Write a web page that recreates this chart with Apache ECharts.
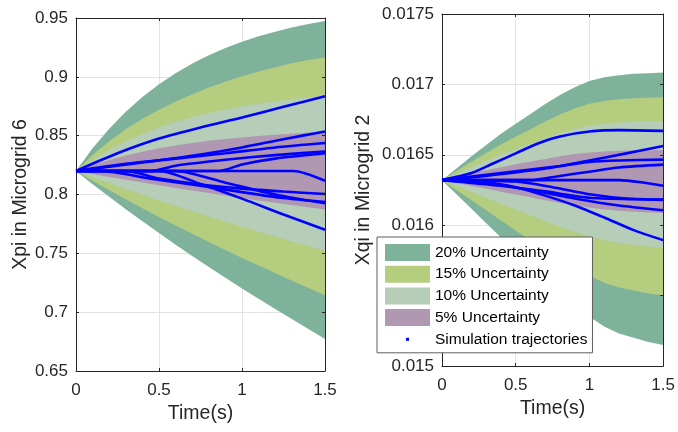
<!DOCTYPE html>
<html>
<head>
<meta charset="utf-8">
<script src="https://cdn.jsdelivr.net/npm/echarts@6/dist/echarts.min.js"></script>
<style>
html,body{margin:0;padding:0;background:#fff;}
#chart{width:678px;height:432px;}
</style>
</head>
<body>
<div id="chart"></div>
<script>
// ---- shared time grid (s) ----
const time = [0, 0.1, 0.2, 0.3, 0.4, 0.5, 0.6, 0.7, 0.8, 0.9, 1.0, 1.1, 1.2, 1.3, 1.4, 1.5];

// ---- left panel: Xpi in Microgrid 6, uncertainty band edges ----
const leftUpper20 = [0.82, 0.8392, 0.8559, 0.8703, 0.8829, 0.8937, 0.9031, 0.9113, 0.9183, 0.9245, 0.9298, 0.9344, 0.9384, 0.9419, 0.9449, 0.9475];
const leftLower20 = [0.82, 0.8088, 0.798, 0.7875, 0.7772, 0.7672, 0.7574, 0.7478, 0.7384, 0.7292, 0.7202, 0.7114, 0.7027, 0.6941, 0.6856, 0.6772];
const leftUpper15 = [0.82, 0.8335, 0.8452, 0.8554, 0.8643, 0.8721, 0.8791, 0.8853, 0.8909, 0.8959, 0.9004, 0.9045, 0.9082, 0.9115, 0.9144, 0.9165];
const leftLower15 = [0.82, 0.8117, 0.8037, 0.7959, 0.7883, 0.7809, 0.7737, 0.7666, 0.7596, 0.7528, 0.7461, 0.7396, 0.7332, 0.7268, 0.7205, 0.7143];
const leftUpper10 = [0.82, 0.8296, 0.838, 0.8452, 0.8515, 0.8569, 0.8616, 0.8657, 0.8692, 0.8723, 0.8749, 0.8772, 0.8792, 0.881, 0.8825, 0.884];
const leftLower10 = [0.82, 0.8147, 0.8095, 0.8046, 0.7997, 0.7949, 0.7903, 0.7857, 0.7812, 0.7769, 0.7726, 0.7684, 0.7643, 0.7602, 0.7562, 0.7522];
const leftUpper5  = [0.82, 0.825, 0.8293, 0.8331, 0.8364, 0.8392, 0.8416, 0.8437, 0.8456, 0.8472, 0.8485, 0.8497, 0.8508, 0.8517, 0.8525, 0.8532];
const leftLower5  = [0.82, 0.8174, 0.8149, 0.8125, 0.8102, 0.8079, 0.8056, 0.8034, 0.8012, 0.7991, 0.797, 0.795, 0.793, 0.791, 0.7891, 0.7872];

// ---- left panel simulation trajectories [t, value] ----
const leftTraj1  = [[0,0.82],[0.25,0.835],[0.5,0.8475],[0.75,0.857],[1,0.8655],[1.25,0.8745],[1.5,0.8835]];
const leftTraj2  = [[0,0.82],[0.5,0.829],[0.75,0.834],[1,0.840],[1.25,0.847],[1.5,0.8536]];
const leftTraj3  = [[0,0.82],[0.3,0.826],[0.6,0.8305],[0.9,0.835],[1.2,0.84],[1.5,0.8438]];
const leftTraj4  = [[0,0.82],[0.45,0.82],[0.6,0.8245],[0.9,0.8295],[1.2,0.8335],[1.5,0.8366]];
const leftTraj5  = [[0,0.82],[0.86,0.82],[1.0,0.8255],[1.2,0.8305],[1.5,0.835]];
const leftTraj6  = [[0,0.82],[1.31,0.82],[1.5,0.8117]];
const leftTraj7  = [[0,0.82],[0.3,0.82],[0.5,0.8135],[0.75,0.8085],[1.0,0.805],[1.25,0.8025],[1.5,0.8004]];
const leftTraj8  = [[0,0.82],[0.15,0.82],[0.45,0.8135],[0.75,0.8075],[1.0,0.802],[1.25,0.797],[1.5,0.7936]];
const leftTraj9  = [[0,0.82],[0.6,0.82],[0.9,0.81],[1.2,0.8],[1.5,0.7925]];
const leftTraj10 = [[0,0.82],[0.5,0.82],[0.75,0.809],[1.0,0.7965],[1.25,0.783],[1.5,0.77]];

// ---- right panel: Xqi in Microgrid 2, uncertainty band edges ----
const rightUpper20 = [0.01632, 0.016405, 0.01649, 0.01657, 0.01665, 0.01672, 0.01679, 0.01686, 0.016925, 0.01698, 0.017025, 0.01705, 0.017065, 0.017075, 0.01708, 0.017085];
const rightLower20 = [0.01632, 0.016218, 0.016116, 0.016014, 0.015912, 0.01581, 0.015708, 0.015608, 0.015512, 0.015425, 0.01535, 0.01528, 0.01523, 0.0152, 0.01517, 0.01515];
const rightUpper15 = [0.01632, 0.016386, 0.016451, 0.016513, 0.016574, 0.016628, 0.016682, 0.016736, 0.016786, 0.016828, 0.016863, 0.016882, 0.016894, 0.016901, 0.016905, 0.016909];
const rightLower15 = [0.01632, 0.016249, 0.016177, 0.016106, 0.016034, 0.015963, 0.015892, 0.015822, 0.015754, 0.015693, 0.015641, 0.015592, 0.015557, 0.015536, 0.015515, 0.015501];
const rightUpper10 = [0.01632, 0.016367, 0.016414, 0.016458, 0.016502, 0.01654, 0.016579, 0.016617, 0.016653, 0.016683, 0.016708, 0.016721, 0.01673, 0.016735, 0.016738, 0.01674];
const rightLower10 = [0.01632, 0.016278, 0.016236, 0.016195, 0.016153, 0.016111, 0.016069, 0.016028, 0.015989, 0.015953, 0.015922, 0.015894, 0.015873, 0.015861, 0.015848, 0.01584];
const rightUpper5  = [0.01632, 0.016344, 0.016368, 0.01639, 0.016412, 0.016432, 0.016452, 0.016471, 0.01649, 0.016505, 0.016517, 0.016524, 0.016529, 0.016531, 0.016533, 0.016534];
const rightLower5  = [0.01632, 0.0163, 0.016279, 0.016259, 0.016238, 0.016218, 0.016198, 0.016178, 0.016158, 0.016141, 0.016126, 0.016112, 0.016102, 0.016096, 0.01609, 0.016086];

// ---- right panel simulation trajectories [t, value] ----
const rightTraj1 = [[0,0.01632],[0.2,0.01637],[0.35,0.01644],[0.5,0.01651],[0.65,0.01658],[0.8,0.01663],[1.0,0.016665],[1.2,0.016675],[1.5,0.01667]];
const rightTraj2 = [[0,0.01632],[0.25,0.016345],[0.5,0.016375],[0.75,0.01641],[1.0,0.01646],[1.25,0.01651],[1.5,0.016563]];
const rightTraj3 = [[0,0.01632],[0.4,0.01637],[0.8,0.01642],[1.0,0.01645],[1.2,0.01646],[1.5,0.016466]];
const rightTraj4 = [[0,0.01632],[0.6,0.01632],[0.8,0.01635],[1.0,0.01638],[1.2,0.01641],[1.5,0.01643]];
const rightTraj5 = [[0,0.01632],[1.2,0.01632],[1.35,0.016305],[1.5,0.01628]];
const rightTraj6 = [[0,0.01632],[0.5,0.01631],[0.75,0.01627],[1.0,0.01622],[1.25,0.01619],[1.5,0.016182]];
const rightTraj7 = [[0,0.01632],[0.3,0.0163],[0.6,0.01625],[0.9,0.01619],[1.2,0.01614],[1.5,0.016106]];
const rightTraj8 = [[0,0.01632],[0.3,0.016305],[0.5,0.01627],[0.7,0.01621],[0.9,0.01614],[1.1,0.016055],[1.3,0.015965],[1.5,0.015894]];
const rightTraj9 = [[0,0.01632],[0.4,0.01628],[0.7,0.01624],[1.0,0.016195],[1.3,0.016185],[1.5,0.01618]];

// ---- labels ----
const bandNames = ['20% Uncertainty', '15% Uncertainty', '10% Uncertainty', '5% Uncertainty'];
const trajName = 'Simulation trajectories';
const leftYName = 'Xpi in Microgrid 6';
const rightYName = 'Xqi in Microgrid 2';
const xName = 'Time(s)';

// ---- styling ----
const bandColors = ['#7fb29a', '#b5cd7f', '#b6cdb7', '#b097b2'];
const trajColor = '#0000ff';
const FONT = '"Liberation Sans", Arial, Helvetica, sans-serif';
const INK = '#262626';

const leftBands = [[leftLower20, leftUpper20], [leftLower15, leftUpper15], [leftLower10, leftUpper10], [leftLower5, leftUpper5]];
const rightBands = [[rightLower20, rightUpper20], [rightLower15, rightUpper15], [rightLower10, rightUpper10], [rightLower5, rightUpper5]];
const leftTrajs = [leftTraj1, leftTraj2, leftTraj3, leftTraj4, leftTraj5, leftTraj6, leftTraj7, leftTraj8, leftTraj9, leftTraj10];
const rightTrajs = [rightTraj1, rightTraj2, rightTraj3, rightTraj4, rightTraj5, rightTraj6, rightTraj7, rightTraj8, rightTraj9];

// Each band is drawn as a polygon: upper edge forward, lower edge backward,
// every vertex placed through the axis scales with api.coord.
function bandSeries(axisIdx, bands) {
  return bands.map(([lower, upper], b) => ({
    type: 'custom', name: bandNames[b], coordinateSystem: 'cartesian2d',
    xAxisIndex: axisIdx, yAxisIndex: axisIdx,
    data: [[time[0], lower[0]]],
    color: bandColors[b], silent: true, z: 2,
    renderItem: function (params, api) {
      const pts = [];
      for (let i = 0; i < time.length; i++) pts.push(api.coord([time[i], upper[i]]));
      for (let i = time.length - 1; i >= 0; i--) pts.push(api.coord([time[i], lower[i]]));
      return { type: 'polygon', shape: { points: pts }, style: { fill: bandColors[b], stroke: null } };
    }
  }));
}
function trajSeries(axisIdx, trajs) {
  return trajs.map(tr => ({
    type: 'line', name: trajName, xAxisIndex: axisIdx, yAxisIndex: axisIdx,
    data: tr, symbol: 'none', smooth: 0.25, color: trajColor,
    lineStyle: { color: trajColor, width: 2.6 }, silent: true, z: 3
  }));
}

function mainX(gridIndex) {
  return {
    type: 'value', gridIndex: gridIndex, min: 0, max: 1.5, interval: 0.5, position: 'bottom',
    name: xName, nameLocation: 'middle', nameGap: 33,
    nameTextStyle: { fontSize: 19.5, color: INK, fontFamily: FONT },
    axisLine: { show: true, onZero: false, lineStyle: { color: INK, width: 1 } },
    axisTick: { show: true, inside: true, length: 3, lineStyle: { color: INK } },
    axisLabel: { fontSize: 17, color: INK, margin: 11, fontFamily: FONT },
    splitLine: { show: true, lineStyle: { color: '#e3e3e3', width: 1 } }
  };
}
function overlayX(gridIndex) {
  return {
    type: 'value', gridIndex: gridIndex, min: 0, max: 1.5, interval: 0.5, position: 'top', z: 5,
    axisLine: { show: true, onZero: false, lineStyle: { color: INK, width: 1 } },
    axisTick: { show: true, inside: true, length: 3, lineStyle: { color: INK } },
    axisLabel: { show: false }, splitLine: { show: false }
  };
}
function mainY(gridIndex, min, max, interval, name, gap) {
  return {
    type: 'value', gridIndex: gridIndex, min: min, max: max, interval: interval, position: 'left',
    name: name, nameLocation: 'middle', nameGap: gap, nameRotate: 90,
    nameTextStyle: { fontSize: 19.5, color: INK, fontFamily: FONT },
    axisLine: { show: true, onZero: false, lineStyle: { color: INK, width: 1 } },
    axisTick: { show: true, inside: true, length: 3, lineStyle: { color: INK } },
    axisLabel: { fontSize: 17, color: INK, margin: 8, fontFamily: FONT },
    splitLine: { show: true, lineStyle: { color: '#e3e3e3', width: 1 } }
  };
}
function overlayY(gridIndex, min, max, interval) {
  return {
    type: 'value', gridIndex: gridIndex, min: min, max: max, interval: interval, position: 'right', z: 5,
    axisLine: { show: true, onZero: false, lineStyle: { color: INK, width: 1 } },
    axisTick: { show: true, inside: true, length: 3, lineStyle: { color: INK } },
    axisLabel: { show: false }, splitLine: { show: false }
  };
}

const chart = echarts.init(document.getElementById('chart'), null, { renderer: 'canvas' });
chart.setOption({
  animation: false,
  backgroundColor: '#ffffff',
  textStyle: { fontFamily: FONT },
  grid: [
    { left: 76, top: 18, width: 249, height: 353 },
    { left: 442, top: 14, width: 226, height: 352 }
  ],
  xAxis: [mainX(0), mainX(1), overlayX(0), overlayX(1)],
  yAxis: [
    mainY(0, 0.65, 0.95, 0.05, leftYName, 42),
    mainY(1, 0.015, 0.0175, 0.0005, rightYName, 68),
    overlayY(0, 0.65, 0.95, 0.05),
    overlayY(1, 0.015, 0.0175, 0.0005)
  ],
  legend: {
    show: true, orient: 'vertical', left: 377, top: 237,
    selectedMode: false,
    itemWidth: 45, itemHeight: 17, itemGap: 4.7,
    padding: [7, 5, 5, 8],
    backgroundColor: '#ffffff', borderColor: '#5f5f5f', borderWidth: 1, borderRadius: 0,
    textStyle: { fontSize: 15.5, color: '#000000', fontFamily: FONT },
    itemStyle: { borderWidth: 0 },
    z: 10,
    data: bandNames.map((n, b) => ({ name: n, icon: 'rect', itemStyle: { color: bandColors[b], borderWidth: 0 } }))
      .concat([{ name: trajName, icon: 'path://M0,0M45,17M21,7h3v3h-3z', itemStyle: { color: trajColor, borderWidth: 0 } }])
  },
  series: [].concat(
    bandSeries(0, leftBands),
    trajSeries(0, leftTrajs),
    bandSeries(1, rightBands),
    trajSeries(1, rightTrajs)
  )
});
</script>
</body>
</html>
